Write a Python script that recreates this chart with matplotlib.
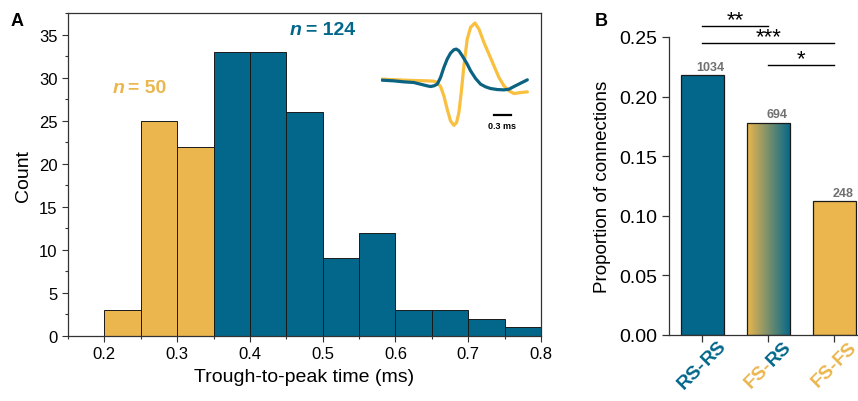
import numpy as np
import matplotlib
matplotlib.use("Agg")
import matplotlib.pyplot as plt
from matplotlib.colors import LinearSegmentedColormap
from matplotlib.ticker import MultipleLocator

plt.rcParams['font.family'] = ['Liberation Sans', 'DejaVu Sans']

YEL = '#ebb64e'
BLUE = '#02678a'
YEL_LINE = '#f9bf3e'
BLUE_LINE = '#0b6381'

# histogram (panel A)
bin_left = [0.20, 0.25, 0.30, 0.35, 0.40, 0.45, 0.50, 0.55, 0.60, 0.65, 0.70, 0.75]
counts = [3, 25, 22, 33, 33, 26, 9, 12, 3, 3, 2, 1]
is_fs = [True, True, True, False, False, False, False, False, False, False, False, False]
n_fs, n_rs = 50, 124

# mean waveforms for the inset (time in ms, arbitrary amplitude)
fs_t = [0, 0.27, 0.57, 0.81, 0.93, 0.99, 1.05, 1.11, 1.17, 1.23, 1.29, 1.338, 1.38, 1.422,
        1.47, 1.53, 1.59, 1.668, 1.74, 1.83, 1.92, 2.01, 2.10, 2.19, 2.28, 2.37, 2.49, 2.61]
fs_v = [0.05, 0.03, 0.01, 0, -0.01, -0.05, -0.17, -0.45, -0.85, -1.20, -1.33, -1.25, -0.95, -0.35,
        0.45, 1.25, 1.60, 1.73, 1.55, 1.15, 0.80, 0.45, 0.10, -0.15, -0.30, -0.38, -0.35, -0.33]
rs_t = [0, 0.21, 0.39, 0.57, 0.69, 0.81, 0.87, 0.93, 0.99, 1.05, 1.11, 1.17, 1.23, 1.29, 1.332,
        1.38, 1.44, 1.53, 1.59, 1.68, 1.77, 1.86, 1.95, 2.07, 2.19, 2.28, 2.37, 2.49, 2.61]
rs_v = [0.02, 0, -0.03, -0.05, -0.10, -0.15, -0.17, -0.15, -0.10, 0.10, 0.40, 0.65, 0.83, 0.93, 0.95,
        0.90, 0.75, 0.50, 0.30, 0.07, -0.10, -0.18, -0.23, -0.26, -0.27, -0.25, -0.17, -0.07, 0.03]

# connection proportions (panel B)
pairs = ['RS-RS', 'FS-RS', 'FS-FS']
props = [0.218, 0.178, 0.112]
n_pairs = [1034, 694, 248]
sig = [(0, 1, '**', 0.259), (0, 2, '***', 0.245), (1, 2, '*', 0.2265)]

fig = plt.figure(figsize=(8.58, 4.02), dpi=100)

# ---------------- panel A ----------------
ax = fig.add_axes([0.0793, 0.1617, 0.5512, 0.8033])
for x, c, fs in zip(bin_left, counts, is_fs):
    ax.bar(x, c, width=0.05, align='edge', color=YEL if fs else BLUE,
           edgecolor='#1a1a1a', linewidth=0.7)
ax.set_xlim(0.15, 0.8)
ax.set_ylim(0, 37.5)
ax.xaxis.set_major_locator(MultipleLocator(0.1))
ax.xaxis.set_minor_locator(MultipleLocator(0.05))
ax.yaxis.set_major_locator(MultipleLocator(5))
ax.yaxis.set_minor_locator(MultipleLocator(2.5))
ax.tick_params(labelsize=12, length=4, width=0.8, color='#333333')
ax.tick_params(which='minor', length=2.5, width=0.8, color='#333333')
for s in ax.spines.values():
    s.set_color('#333333')
    s.set_linewidth(0.9)
ax.set_xlabel('Trough-to-peak time (ms)', fontsize=14, labelpad=5)
ax.set_ylabel('Count', fontsize=14, labelpad=5)

# n labels (italic n, bold text)
ax.text(0.095, 0.771, 'n', transform=ax.transAxes, color=YEL, fontsize=14,
        fontweight='bold', style='italic', va='center')
ax.text(0.127, 0.771, '= %d' % n_fs, transform=ax.transAxes, color=YEL, fontsize=14,
        fontweight='bold', va='center')
ax.text(0.469, 0.950, 'n', transform=ax.transAxes, color=BLUE, fontsize=14,
        fontweight='bold', style='italic', va='center')
ax.text(0.503, 0.950, '= %d' % n_rs, transform=ax.transAxes, color=BLUE, fontsize=14,
        fontweight='bold', va='center')
fig.text(0.012, 0.935, 'A', fontsize=13, fontweight='bold')

# inset waveforms
ins = fig.add_axes([381 / 858, 1 - 137 / 402, 148 / 858, 117 / 402])
ins.plot(fs_t, fs_v, color=YEL_LINE, lw=2.3, solid_capstyle='round')
ins.plot(rs_t, rs_v, color=BLUE_LINE, lw=2.3, solid_capstyle='round')
ins.plot([2.01, 2.31], [-1.03, -1.03], color='black', lw=1.6)
ins.text(2.16, -1.2, '0.3 ms', ha='center', va='top', fontsize=6.5, fontweight='bold')
ins.set_xlim(-0.02, 2.64)
ins.set_ylim(-1.65, 1.85)
ins.axis('off')

# ---------------- panel B ----------------
bx = fig.add_axes([0.7797, 0.1642, 0.2203, 0.7413])
bars = bx.bar(range(3), props, width=0.65, color=[BLUE, 'none', YEL],
              edgecolor='#1a1a1a', linewidth=0.9, zorder=2)
grad = LinearSegmentedColormap.from_list('g', [YEL, BLUE])
im = bx.imshow(np.linspace(0, 1, 256)[None, :], cmap=grad, aspect='auto',
               extent=[1 - 0.325, 1 + 0.325, 0, props[1]], zorder=1)
im.set_clip_path(bars[1])
bx.set_xlim(-0.5, 2.355)
bx.set_ylim(0, 0.25)
bx.set_yticks([0, 0.05, 0.10, 0.15, 0.20, 0.25])
bx.set_yticklabels(['0.00', '0.05', '0.10', '0.15', '0.20', '0.25'])
bx.set_xticks(range(3))
bx.set_xticklabels([])
bx.tick_params(labelsize=14, length=5, width=0.9, color='#333333')
bx.spines['top'].set_visible(False)
bx.spines['right'].set_visible(False)
for s in ['left', 'bottom']:
    bx.spines[s].set_color('#333333')
    bx.spines[s].set_linewidth(0.9)
bx.set_ylabel('Proportion of connections', fontsize=13.5, labelpad=6)
for i, (p, n) in enumerate(zip(props, n_pairs)):
    bx.text(i + 0.13, p + 0.002, str(n), ha='center', va='bottom', fontsize=9,
            fontweight='bold', color='#707070')
for a, b, stars, y in sig:
    bx.plot([a, b], [y, y], color='black', lw=1.0, clip_on=False)
    bx.text((a + b) / 2, y + 0.0005, stars, ha='center', va='baseline', fontsize=16,
            clip_on=False)

# coloured, rotated category labels: "XS-" and "YS" drawn as two pieces
fig.canvas.draw()
rend = fig.canvas.get_renderer()
label_y = -0.097
ang = np.deg2rad(45)
for i, name in enumerate(pairs):
    head, tail = name[:3], name[3:]
    c_head = YEL if head.startswith('FS') else BLUE
    c_tail = YEL if tail == 'FS' else BLUE
    probe = fig.text(0, 0, name, fontsize=14, fontweight='bold')
    w_full = probe.get_window_extent(rend).width
    probe.remove()
    probe = fig.text(0, 0, head, fontsize=14, fontweight='bold')
    w_head = probe.get_window_extent(rend).width
    probe.remove()
    for piece, col, start in [(head, c_head, -w_full / 2), (tail, c_tail, -w_full / 2 + w_head)]:
        ox = start * np.cos(ang) * 72 / fig.dpi
        oy = start * np.sin(ang) * 72 / fig.dpi
        bx.annotate(piece, xy=(i, label_y), xycoords=('data', 'axes fraction'),
                    xytext=(ox, oy), textcoords='offset points', rotation=45,
                    rotation_mode='anchor', ha='left', va='center', fontsize=14,
                    fontweight='bold', color=col, annotation_clip=False)

fig.text(0.693, 0.935, 'B', fontsize=13, fontweight='bold')

fig.savefig('out.png', dpi=100)
